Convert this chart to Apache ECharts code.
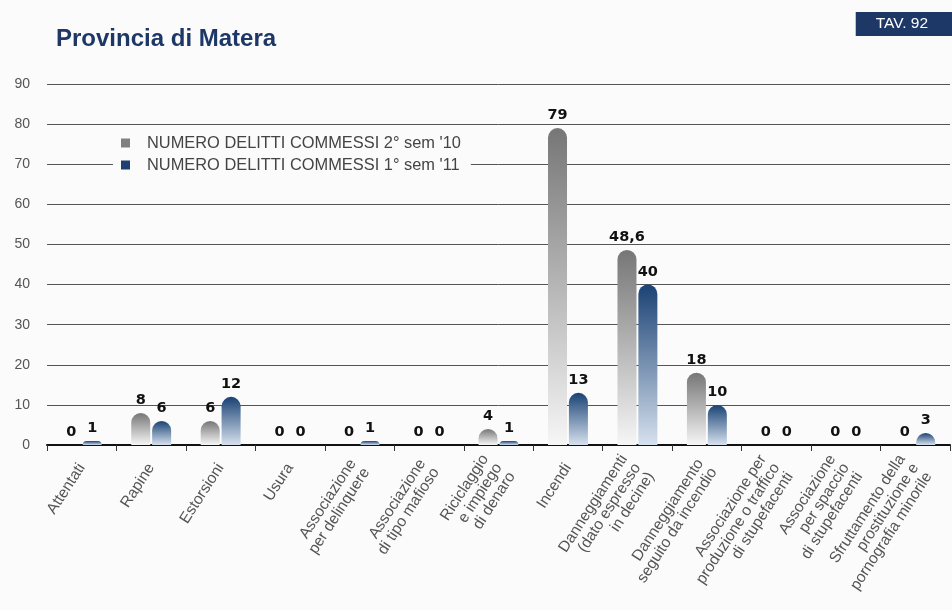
<!DOCTYPE html>
<html>
<head>
<meta charset="utf-8">
<script src="https://cdn.jsdelivr.net/npm/echarts@6/dist/echarts.min.js"></script>
<style>
  html, body { margin: 0; padding: 0; background: #fbfbfb; }
  #chart { width: 952px; height: 610px; }
</style>
</head>
<body>
<div id="chart"></div>
<script>
const categories = [
  'Attentati',
  'Rapine',
  'Estorsioni',
  'Usura',
  'Associazione\nper delinquere',
  'Associazione\ndi tipo mafioso',
  'Riciclaggio\ne impiego\ndi denaro',
  'Incendi',
  'Danneggiamenti\n(dato espresso\nin decine)',
  'Danneggiamento\nseguito da incendio',
  'Associazione per\nproduzione o traffico\ndi stupefacenti',
  'Associazione\nper spaccio\ndi stupefacenti',
  'Sfruttamento della\nprostituzione e\npornografia minorile'
]
const sem2_10 = [0, 8, 6, 0, 0, 0, 4, 79, 48.6, 18, 0, 0, 0]
const sem1_11 = [1, 6, 12, 0, 1, 0, 1, 13, 40, 10, 0, 0, 3]
const seriesNames = ["NUMERO DELITTI COMMESSI 2° sem '10", "NUMERO DELITTI COMMESSI 1° sem '11"]

const chart = echarts.init(document.getElementById('chart'))

function grad(top, bottom) {
  return new echarts.graphic.LinearGradient(0, 0, 0, 1, [
    { offset: 0, color: top },
    { offset: 1, color: bottom }
  ])
}

const labelStyle = {
  show: true,
  position: 'top',
  distance: 5,
  color: '#111',
  fontFamily: 'DejaVu Sans',
  fontWeight: 'bold',
  fontSize: 14.5,
  formatter: (p) => String(p.value).replace('.', ',')
}

chart.setOption({
  backgroundColor: '#fbfbfb',
  animation: false,
  title: [
    {
      text: 'Provincia di Matera',
      left: 51,
      top: 22,
      textStyle: { color: '#1d3866', fontSize: 24, fontWeight: 'bold', fontFamily: 'Liberation Sans' }
    },
    {
      text: 'TAV. 92',
      right: 0,
      top: 12,
      backgroundColor: '#1d3866',
      padding: [4, 24, 4, 20],
      textStyle: { color: '#fff', fontSize: 15.5, fontWeight: 'normal', fontFamily: 'Liberation Sans' }
    }
  ],
  legend: {
    orient: 'vertical',
    left: 113,
    top: 131,
    itemWidth: 9,
    itemHeight: 9,
    itemGap: 6,
    padding: [4, 10, 4, 8],
    backgroundColor: '#fbfbfb',
    textStyle: { color: '#444', fontSize: 16.4, fontFamily: 'Liberation Sans', padding: [0, 0, 0, 12] },
    data: [
      { name: seriesNames[0], icon: 'rect', itemStyle: { color: '#808080' } },
      { name: seriesNames[1], icon: 'rect', itemStyle: { color: '#1f3f6e' } }
    ]
  },
  grid: { left: 47, right: 2, top: 84, bottom: 165 },
  xAxis: {
    type: 'category',
    data: categories,
    axisLine: { lineStyle: { color: '#111', width: 2 } },
    axisTick: { show: true, length: 6, lineStyle: { color: '#333' } },
    axisLabel: {
      interval: 0,
      rotate: 57,
      margin: 20,
      color: '#555',
      fontSize: 15.5,
      lineHeight: 16,
      fontFamily: 'Liberation Sans'
    }
  },
  yAxis: {
    type: 'value',
    min: 0,
    max: 90,
    interval: 10,
    axisLine: { show: false },
    axisTick: { show: false },
    axisLabel: { color: '#555', fontSize: 14, margin: 17, fontFamily: 'Liberation Sans' },
    splitLine: { lineStyle: { color: '#555', width: 1 } }
  },
  series: [
    {
      name: seriesNames[0],
      type: 'bar',
      data: sem2_10,
      barWidth: 19,
      barGap: '10%',
      itemStyle: { color: grad('#767676', '#f6f6f6'), borderRadius: [10, 10, 0, 0] },
      label: labelStyle
    },
    {
      name: seriesNames[1],
      type: 'bar',
      data: sem1_11,
      barWidth: 19,
      barGap: '10%',
      itemStyle: { color: grad('#1a4274', '#d6e1ee'), borderRadius: [10, 10, 0, 0] },
      label: labelStyle
    }
  ]
})
</script>
</body>
</html>
